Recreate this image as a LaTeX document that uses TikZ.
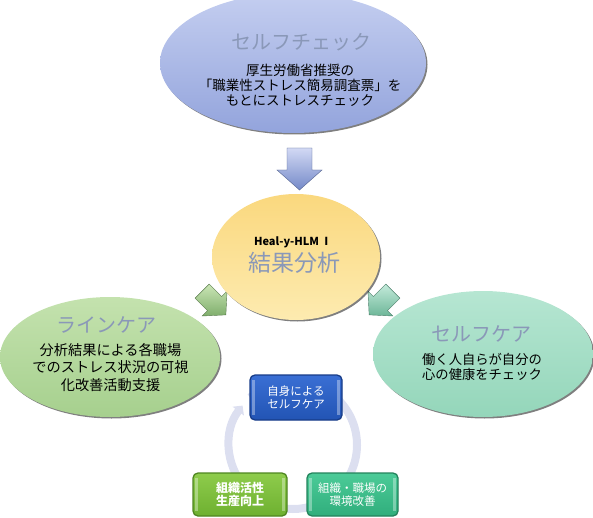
\documentclass[tikz,border=0pt]{standalone}
\usepackage{fontspec}
\setmainfont{Noto Sans CJK JP}
\usetikzlibrary{shapes.geometric,arrows.meta,calc}
\definecolor{titlec}{HTML}{8A98B8}
\definecolor{topA}{HTML}{C4CEF0}
\definecolor{topB}{HTML}{93A4DC}
\definecolor{yelA}{HTML}{FDEBB0}
\definecolor{yelB}{HTML}{FAD87E}
\definecolor{lgA}{HTML}{C4E2AE}
\definecolor{lgB}{HTML}{A6D08E}
\definecolor{rgA}{HTML}{B6E6D2}
\definecolor{rgB}{HTML}{94D6BA}
\definecolor{ringc}{HTML}{DCDFF0}
\definecolor{b1A}{HTML}{3A6FD4}
\definecolor{b1B}{HTML}{2254B4}
\definecolor{b1D}{HTML}{173C88}
\definecolor{b2A}{HTML}{4CCB98}
\definecolor{b2B}{HTML}{30AE7C}
\definecolor{b2D}{HTML}{23835C}
\definecolor{b3A}{HTML}{8ECC4C}
\definecolor{b3B}{HTML}{6EB030}
\definecolor{b3D}{HTML}{4F8620}
\definecolor{arA}{HTML}{D2D9F4}
\definecolor{arB}{HTML}{7489C8}
\definecolor{gaA}{HTML}{CBE6B6}
\definecolor{gaB}{HTML}{7FAE6C}
\definecolor{taA}{HTML}{C4EBDB}
\definecolor{taB}{HTML}{6DB698}
\tikzset{
  ell/.style={ellipse, inner sep=0pt, shading=axis, shading angle=0},
  shad/.style={fill=black, opacity=0.5},
  ttl/.style={font=\fontsize{20}{22}\selectfont, text=titlec, inner sep=0pt},
  bodytxt/.style={align=center, inner sep=0pt, text=black},
  boxst/.style={rounded corners=5pt, line width=1.3pt, shading=axis, shading angle=0,
     inner sep=0pt, text=white, align=center, font=\fontsize{11.5}{13.5}\selectfont},
  hilite/.style={fill=white, opacity=0.35},
  fatarrow/.style={line width=0.4pt, shading=axis, shading angle=0}
}
\begin{document}
\begin{tikzpicture}[x=1pt,y=-1pt]
\useasboundingbox (0,0) rectangle (593,518);

% top ellipse
\fill[shad] (294.5,64.5) ellipse [x radius=133, y radius=70];
\node[ell, top color=topA, bottom color=topB, minimum width=266pt, minimum height=140pt] (top) at (293,63) {};
\node[ttl] (toptitle) at (301,42) {セルフチェック};
\node[bodytxt, font=\fontsize{13.5}{15}\selectfont] (topbody) at (300,85) {厚生労働省推奨の\\「職業性ストレス簡易調査票」を\\もとにストレスチェック};

% down arrow
\draw[fatarrow, draw=arB!70!black, top color=arA, bottom color=arB]
  (287,148) -- (312,148) -- (312,170) -- (322,170) -- (299.5,190) -- (277,170) -- (287,170) -- cycle;

% green arrows
\begin{scope}[shift={(214,303)}, rotate=45, scale=0.8]
  \draw[fatarrow, draw=gaB!70!black, top color=gaA, bottom color=gaB]
    (-12.5,-21) -- (12.5,-21) -- (12.5,1) -- (22,1) -- (0,21) -- (-22,1) -- (-12.5,1) -- cycle;
\end{scope}
\begin{scope}[shift={(381,303)}, rotate=-45, scale=0.8]
  \draw[fatarrow, draw=taB!70!black, top color=taA, bottom color=taB]
    (-12.5,-21) -- (12.5,-21) -- (12.5,1) -- (22,1) -- (0,21) -- (-22,1) -- (-12.5,1) -- cycle;
\end{scope}

% yellow ellipse
\fill[shad] (297.5,258.5) ellipse [x radius=84, y radius=63];
\node[ell, top color=yelB, bottom color=yelA, minimum width=168pt, minimum height=126pt] (mid) at (296,257) {};
\node[inner sep=0pt, font=\bfseries\fontsize{11}{12}\selectfont] (heal) at (293,242) {Heal-y-HLM\,Ⅰ};
\node[inner sep=0pt, font=\fontsize{23}{25}\selectfont, text=titlec] (midtitle) at (294,263) {結果分析};

% left ellipse
\fill[shad] (111.5,358.5) ellipse [x radius=110, y radius=60];
\node[ell, top color=lgA, bottom color=lgB, minimum width=220pt, minimum height=120pt] (left) at (110,357) {};
\node[ttl] (lefttitle) at (106.5,325) {ラインケア};
\node[bodytxt, font=\fontsize{14.2}{17.5}\selectfont] (leftbody) at (110.5,367.5) {分析結果による各職場\\でのストレス状況の可視\\化改善活動支援};

% right ellipse
\fill[shad] (484.5,355.5) ellipse [x radius=110, y radius=63];
\node[ell, top color=rgA, bottom color=rgB, minimum width=220pt, minimum height=126pt] (right) at (483,354) {};
\node[ttl] (righttitle) at (481.5,334) {セルフケア};
\node[bodytxt, font=\fontsize{13.3}{14.5}\selectfont] (rightbody) at (482,367) {働く人自らが自分の\\心の健康をチェック};

% cycle ring
\coordinate (rc) at (293,445);
\draw[ringc, line width=8pt, -{Triangle[length=7pt,width=14pt]}]
  ($(rc)+(-132:64)$) arc[start angle=-132, end angle=218, radius=64];

% boxes
\node[boxst, draw=b1D, top color=b1A, bottom color=b1B, minimum width=92pt, minimum height=45pt] (b1) at (296,397.5) {自身による\\セルフケア};
\node[boxst, draw=b2D, top color=b2A, bottom color=b2B, minimum width=91pt, minimum height=43pt] (b2) at (352.5,494.5) {組織・職場の\\環境改善};
\node[boxst, draw=b3D, top color=b3A, bottom color=b3B, minimum width=94pt, minimum height=43pt, font=\bfseries\fontsize{12}{13.5}\selectfont] (b3) at (240,494.5) {組織活性\\生産向上};
\foreach \b in {b1,b2,b3}{
  \fill[hilite] ($(\b.north west)+(3,6)$) rectangle ($(\b.south west)+(6,-6)$);
  \fill[hilite] ($(\b.north east)+(-6,6)$) rectangle ($(\b.south east)+(-3,-6)$);
}
\end{tikzpicture}
\end{document}
